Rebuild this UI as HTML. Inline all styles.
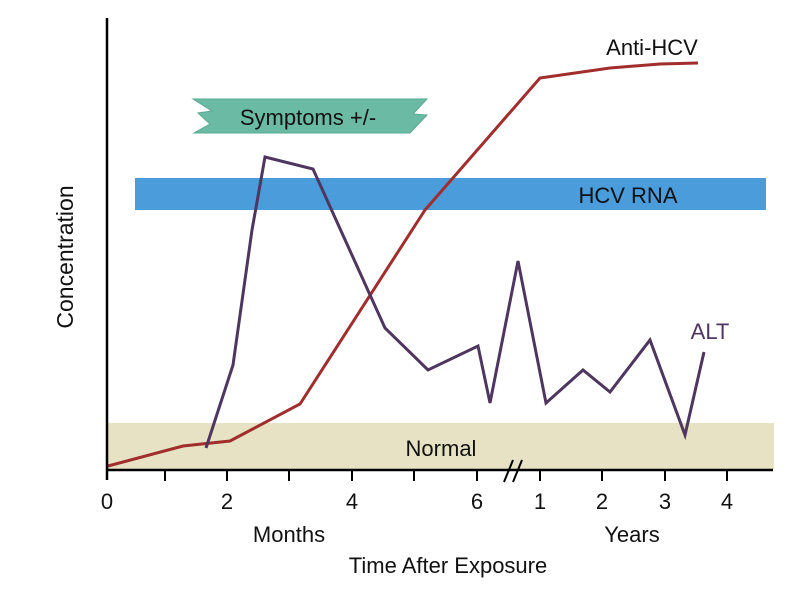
<!DOCTYPE html>
<html><head><style>body{margin:0;background:#fff}svg{display:block}text{font-family:"Liberation Sans",sans-serif}</style></head><body>
<svg width="800" height="596" viewBox="0 0 800 596">
<rect x="108" y="423" width="666" height="46" fill="#e6e2c3"/>
<rect x="135" y="178" width="631" height="32" fill="#4a9cdb"/>
<text x="628" y="203" font-size="22" text-anchor="middle" fill="#111">HCV RNA</text>
<text x="441" y="456" font-size="22" text-anchor="middle" fill="#111">Normal</text>
<polygon points="193,99 427,99 413,114 427,115 410,133 194,133 210,124 198,113 212,111" fill="#6bbaa4" stroke="#5aa890"/>
<text x="308" y="125" font-size="22" text-anchor="middle" fill="#111">Symptoms +/-</text>
<polyline points="108,466 183,446 230,441 300,404 425,210 540,78 610,68 660,64 698,63" fill="none" stroke="#a12d2d" stroke-width="3"/>
<polyline points="206,448 233,365 252,230 265,157 313,169 385,328 428,370 478,346 490,403 518,261 546,403 583,370 610,392 650,340 685,435 704,352" fill="none" stroke="#4e3660" stroke-width="3"/>
<line x1="107" y1="18" x2="107" y2="480" stroke="#000" stroke-width="2.5"/>
<line x1="106" y1="470" x2="773" y2="470" stroke="#000" stroke-width="2.5"/>
<g stroke="#000" stroke-width="2">
<line x1="165" y1="470" x2="165" y2="481"/><line x1="227" y1="470" x2="227" y2="481"/><line x1="289" y1="470" x2="289" y2="481"/><line x1="352" y1="470" x2="352" y2="481"/><line x1="414" y1="470" x2="414" y2="481"/><line x1="477" y1="470" x2="477" y2="481"/><line x1="540" y1="470" x2="540" y2="481"/><line x1="602" y1="470" x2="602" y2="481"/><line x1="665" y1="470" x2="665" y2="481"/><line x1="727" y1="470" x2="727" y2="481"/>
<line x1="504" y1="482" x2="513" y2="460"/><line x1="513" y1="482" x2="522" y2="460"/>
</g>
<g font-size="22" text-anchor="middle" fill="#111">
<text x="107" y="509">0</text><text x="227" y="509">2</text><text x="352" y="509">4</text><text x="477" y="509">6</text><text x="540" y="509">1</text><text x="602" y="509">2</text><text x="665" y="509">3</text><text x="727" y="509">4</text>
<text x="289" y="542">Months</text><text x="632" y="542">Years</text>
<text x="448" y="573">Time After Exposure</text>
<text x="652" y="55">Anti-HCV</text>
<text x="710" y="339" fill="#4e3660">ALT</text>
<text transform="translate(73,257) rotate(-90)" font-size="23">Concentration</text>
</g>
</svg>
</body></html>
